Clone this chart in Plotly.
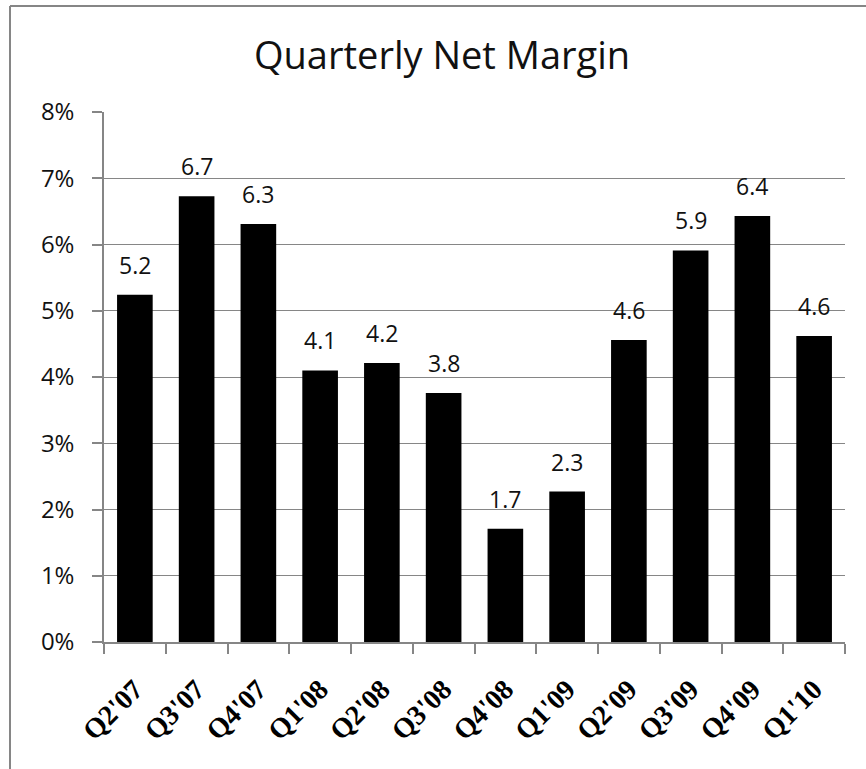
import plotly.graph_objects as go

# Quarterly net margin, in percent
quarters = ["Q2'07", "Q3'07", "Q4'07", "Q1'08", "Q2'08", "Q3'08",
            "Q4'08", "Q1'09", "Q2'09", "Q3'09", "Q4'09", "Q1'10"]
net_margin = [5.24, 6.73, 6.31, 4.10, 4.21, 3.76,
              1.71, 2.27, 4.56, 5.91, 6.43, 4.62]
y_ticks = [0, 1, 2, 3, 4, 5, 6, 7, 8]
y_tick_labels = [f"{v}%" for v in y_ticks]

W, H = 866, 769
ML, MR, MT, MB = 104, 21, 112, 127
PW, PH = W - ML - MR, H - MT - MB
GREY = "#868686"

fig = go.Figure()
fig.add_trace(go.Bar(
    x=quarters, y=net_margin,
    marker=dict(color="black", line=dict(width=0)),
    hoverinfo="skip",
))

# value labels above each bar
for q, v in zip(quarters, net_margin):
    fig.add_annotation(
        x=q, y=v, text=f"{v:.1f}", showarrow=False,
        yanchor="bottom", yshift=12,
        font=dict(family="Open Sans", size=23, color="#111111"),
    )

# chart title
fig.add_annotation(
    x=(441.7 - ML) / PW, y=1 + (MT - 54) / PH, xref="paper", yref="paper",
    text="Quarterly Net Margin", showarrow=False,
    xanchor="center", yanchor="middle",
    font=dict(family="Open Sans", size=38, color="#111111"),
)

# chart frame (top and left edges)
x_frame = (10 - ML) / PW
y_frame = 1 + (MT - 6) / PH
fig.add_shape(type="line", xref="paper", yref="paper",
              x0=x_frame, x1=(W + 5 - ML) / PW, y0=y_frame, y1=y_frame,
              line=dict(color=GREY, width=2))
fig.add_shape(type="line", xref="paper", yref="paper",
              x0=x_frame, x1=x_frame, y0=y_frame, y1=-(MB + 5) / PH,
              line=dict(color=GREY, width=2))

fig.update_layout(
    width=W, height=H,
    margin=dict(l=ML, r=MR, t=MT, b=MB),
    paper_bgcolor="white", plot_bgcolor="white",
    showlegend=False,
    bargap=0.423,
    xaxis=dict(
        type="category",
        showline=True, linecolor=GREY, linewidth=1.5,
        ticks="outside", tickson="boundaries", ticklen=10,
        tickcolor=GREY, tickwidth=1.5,
        tickangle=-45,
        ticklabelstandoff=18,
        tickfont=dict(family="Liberation Serif", size=28, color="black",
                      weight="bold"),
        showgrid=False,
    ),
    yaxis=dict(
        range=[0, 8],
        tickvals=y_ticks, ticktext=y_tick_labels,
        showline=True, linecolor=GREY, linewidth=1.5,
        ticks="outside", ticklen=10, tickcolor=GREY, tickwidth=1.5,
        ticklabelstandoff=13,
        showgrid=True, gridcolor=GREY, gridwidth=1.3,
        zeroline=False,
        tickfont=dict(family="Open Sans", size=24, color="#111111"),
    ),
)

fig.write_html("out.html")
